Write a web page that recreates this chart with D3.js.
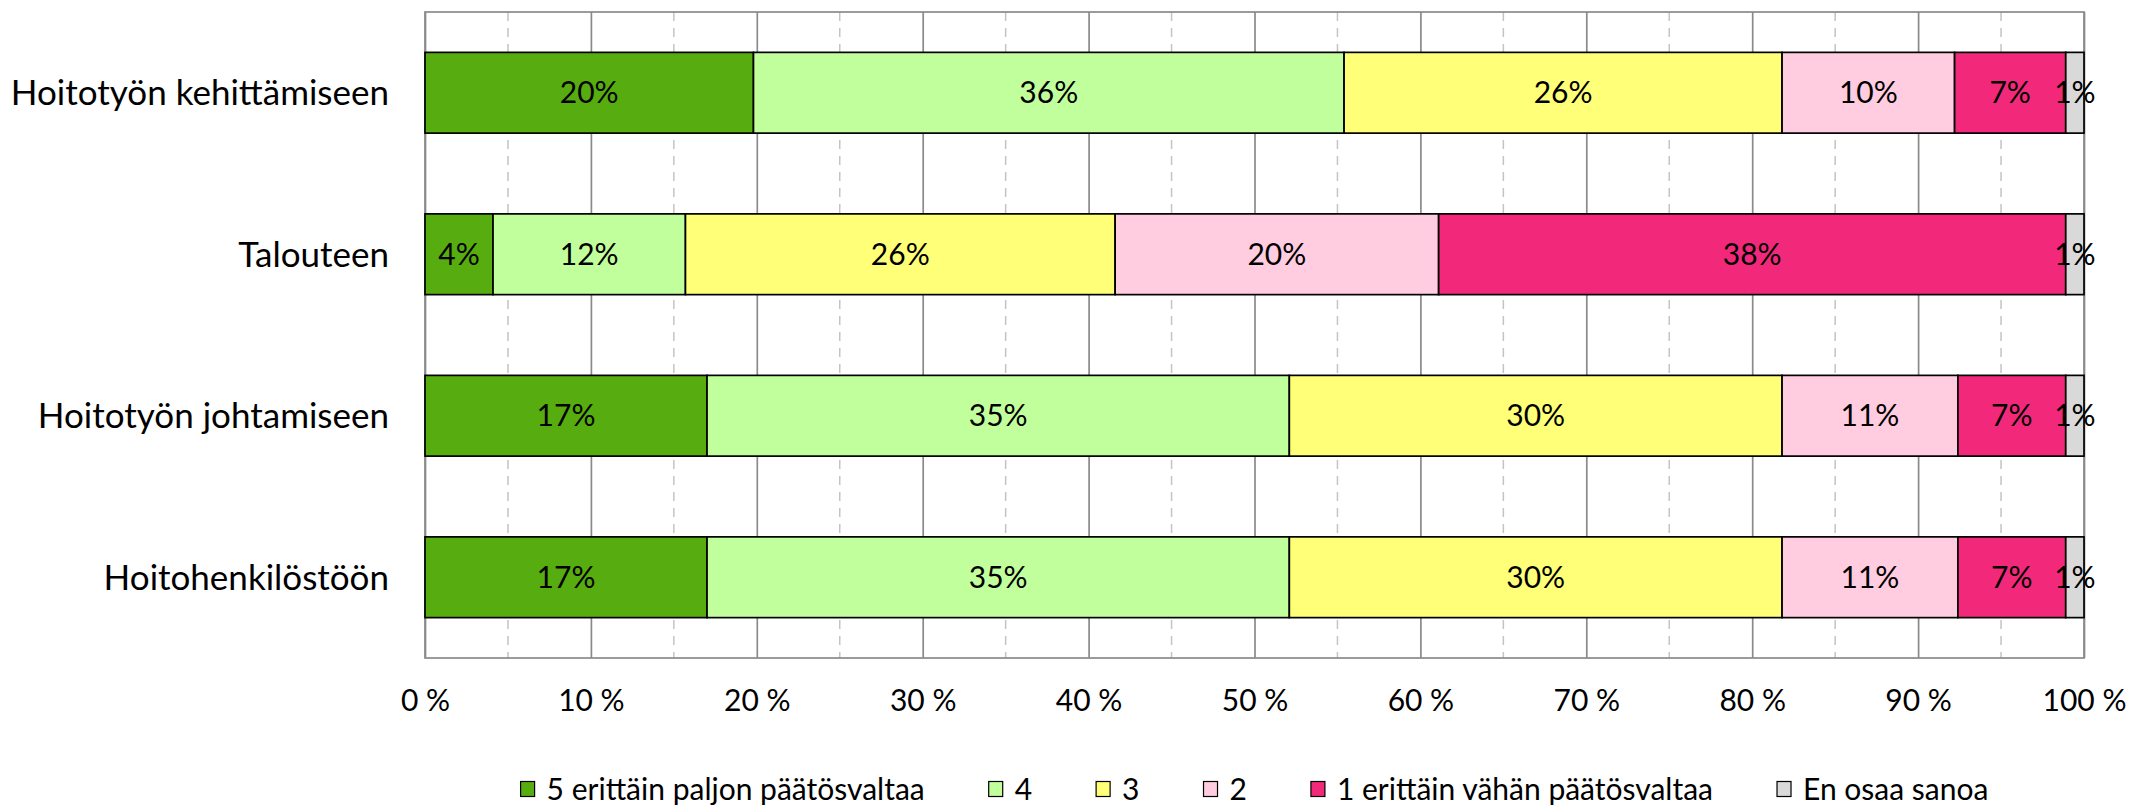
<!DOCTYPE html>
<html>
<head>
<meta charset="utf-8">
<script src="https://cdn.jsdelivr.net/npm/d3@7"></script>
<style>
  body { margin: 0; background: #fff; }
  text { font-family: Lato, "Open Sans", sans-serif; fill: #000; }
</style>
</head>
<body>
<div id="chart"></div>
<script>
// categories, top to bottom
const categories = ["Hoitotyön kehittämiseen", "Talouteen", "Hoitotyön johtamiseen", "Hoitohenkilöstöön"];
const seriesNames = ["5 erittäin paljon päätösvaltaa", "4", "3", "2", "1 erittäin vähän päätösvaltaa", "En osaa sanoa"];
const seriesColors = ["#57ad0f", "#c0ff9c", "#ffff78", "#ffcce0", "#f2297a", "#d9d9d9"];

// shares in %, one value per category
const s5 = [19.8, 4.1, 17.0, 17.0];
const s4 = [35.6, 11.6, 35.1, 35.1];
const s3 = [26.4, 25.9, 29.7, 29.7];
const s2 = [10.4, 19.5, 10.6, 10.6];
const s1 = [6.7, 37.8, 6.5, 6.5];
const sEos = [1.1, 1.1, 1.1, 1.1];

const xTicks = [0, 10, 20, 30, 40, 50, 60, 70, 80, 90, 100];
const xMinor = [5, 15, 25, 35, 45, 55, 65, 75, 85, 95];

const width = 2129, height = 808;
const margin = {top: 12, right: 45, bottom: 150, left: 425};

const allSeries = [s5, s4, s3, s2, s1, sEos];
const table = categories.map((c, i) => {
  const row = {cat: c};
  seriesNames.forEach((s, j) => row[s] = allSeries[j][i]);
  return row;
});
const stacked = d3.stack().keys(seriesNames)(table);

const x = d3.scaleLinear()
  .domain([0, 100])
  .range([margin.left, width - margin.right]);
const y = d3.scaleBand()
  .domain(categories)
  .range([margin.top, height - margin.bottom])
  .paddingInner(0.5)
  .paddingOuter(0.25);

const svg = d3.select("#chart")
  .append("svg")
  .attr("width", width)
  .attr("height", height);

// minor dashed grid
svg.append("g")
  .selectAll("line")
  .data(xMinor)
  .join("line")
  .attr("x1", d => x(d)).attr("x2", d => x(d))
  .attr("y1", margin.top).attr("y2", height - margin.bottom)
  .attr("stroke", "#c4c4c4")
  .attr("stroke-width", 1.5)
  .attr("stroke-dasharray", "9,7");

// major grid + axis
const xAxis = g => g
  .attr("transform", `translate(0,${height - margin.bottom})`)
  .call(d3.axisBottom(x).tickValues(xTicks).tickSize(-(height - margin.top - margin.bottom)).tickFormat(d => d + " %"))
  .call(g => g.select(".domain").remove())
  .call(g => g.selectAll(".tick line").attr("stroke", "#8a8a8a").attr("stroke-width", 1.7))
  .call(g => g.selectAll(".tick text")
    .attr("font-size", 30)
    .attr("font-family", null)
    .attr("y", 42)
    .attr("dy", "0.35em"));
svg.append("g").call(xAxis);

// plot frame
svg.append("rect")
  .attr("x", x(0)).attr("y", margin.top)
  .attr("width", x(100) - x(0))
  .attr("height", height - margin.bottom - margin.top)
  .attr("fill", "none")
  .attr("stroke", "#8a8a8a")
  .attr("stroke-width", 1.7);

// bars
const layers = svg.append("g")
  .selectAll("g")
  .data(stacked)
  .join("g")
  .attr("fill", (d, i) => seriesColors[i]);

layers.selectAll("rect")
  .data(d => d)
  .join("rect")
  .attr("x", d => x(d[0]))
  .attr("y", d => y(d.data.cat))
  .attr("width", d => x(d[1]) - x(d[0]))
  .attr("height", y.bandwidth())
  .attr("stroke", "#000")
  .attr("stroke-width", 1.7);

// value labels
layers.selectAll("text")
  .data(d => d)
  .join("text")
  .attr("x", d => (x(d[0]) + x(d[1])) / 2)
  .attr("y", d => y(d.data.cat) + y.bandwidth() / 2)
  .attr("dy", "0.35em")
  .attr("text-anchor", "middle")
  .attr("font-size", 30)
  .text(d => Math.round(d[1] - d[0]) + "%");

// category labels
svg.append("g")
  .selectAll("text")
  .data(categories)
  .join("text")
  .attr("x", x(0) - 36)
  .attr("y", d => y(d) + y.bandwidth() / 2)
  .attr("dy", "0.35em")
  .attr("text-anchor", "end")
  .attr("font-size", 35)
  .text(d => d);

// legend, laid out left to right then centred under the plot
const legend = svg.append("g").attr("transform", `translate(0,789)`);
const items = legend.selectAll("g")
  .data(seriesNames)
  .join("g");
items.append("rect")
  .attr("x", 0).attr("y", -7.5)
  .attr("width", 14).attr("height", 15)
  .attr("fill", (d, i) => seriesColors[i])
  .attr("stroke", "#000")
  .attr("stroke-width", 1.2);
items.append("text")
  .attr("x", 26)
  .attr("dy", "0.35em")
  .attr("font-size", 30)
  .text(d => d);

let cx = 0;
items.each(function () {
  const w = 26 + d3.select(this).select("text").node().getComputedTextLength();
  d3.select(this).attr("transform", `translate(${cx},0)`);
  cx += w + 64;
});
const total = cx - 64;
legend.attr("transform", `translate(${(x(0) + x(100)) / 2 - total / 2},789)`);
</script>
</body>
</html>
